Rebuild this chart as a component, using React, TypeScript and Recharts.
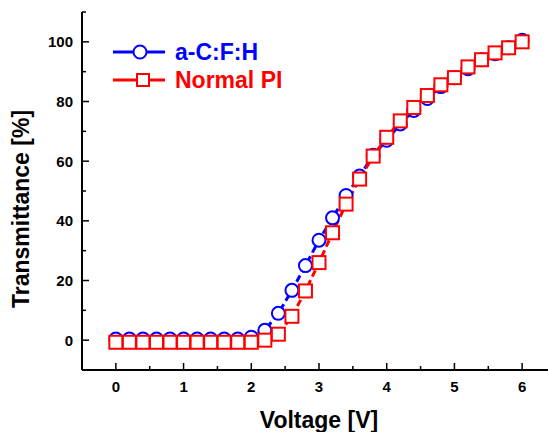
import { LineChart, Line, XAxis, YAxis } from "recharts";

const FONT = "'Liberation Sans', Arial, sans-serif";

// voltage steps (V)
const voltage = [
  0, 0.2, 0.4, 0.6, 0.8, 1.0, 1.2, 1.4, 1.6, 1.8, 2.0, 2.2, 2.4, 2.6, 2.8, 3.0,
  3.2, 3.4, 3.6, 3.8, 4.0, 4.2, 4.4, 4.6, 4.8, 5.0, 5.2, 5.4, 5.6, 5.8, 6.0,
];
// transmittance (%)
const aCFH = [
  0.4, 0.4, 0.4, 0.4, 0.4, 0.4, 0.4, 0.4, 0.4, 0.4, 1, 3.3, 9, 16.7, 25, 33.5,
  41, 48.5, 55, 62, 67, 72.5, 77, 81, 85, 88, 91, 94, 96, 98, 100.5,
];
const normalPI = [
  -0.7, -0.7, -0.7, -0.7, -0.7, -0.7, -0.7, -0.7, -0.7, -0.7, -0.7, 0, 2, 8,
  16.5, 26, 36, 45.6, 54, 61.7, 68, 73.5, 78, 82, 85.6, 88, 91.6, 94, 96.3, 98,
  100,
];

const seriesNames = ["a-C:F:H", "Normal PI"];
const seriesColors = ["#0000ff", "#ff0000"];

const xTicks = [-0.5, 0, 0.5, 1, 1.5, 2, 2.5, 3, 3.5, 4, 4.5, 5, 5.5, 6, 6.5];
const yTicks = [-10, 0, 10, 20, 30, 40, 50, 60, 70, 80, 90, 100, 110];
const yLabels = [0, 20, 40, 60, 80, 100];

const data = voltage.map((v, i) => ({ v, a: aCFH[i], n: normalPI[i] }));

function BottomTick(props: any) {
  const { x, y, payload } = props;
  const major = Number.isInteger(payload.value) && payload.value >= 0;
  return (
    <g>
      <line x1={x} x2={x} y1={y} y2={y - (major ? 7 : 4)} stroke="#000" strokeWidth={1.5} />
      {major && (
        <text x={x} y={y + 22} textAnchor="middle" fontFamily={FONT} fontWeight="bold" fontSize={15} fill="#000">
          {payload.value}
        </text>
      )}
    </g>
  );
}

function TopTick(props: any) {
  const { x, y } = props;
  return <line x1={x} x2={x} y1={y} y2={y + 4} stroke="#000" strokeWidth={1.5} />;
}

function LeftTick(props: any) {
  const { x, y, payload } = props;
  const major = yLabels.includes(payload.value);
  return (
    <g>
      <line x1={x} x2={x + (major ? 7 : 4)} y1={y} y2={y} stroke="#000" strokeWidth={1.5} />
      {major && (
        <text x={x - 9} y={y + 5.5} textAnchor="end" fontFamily={FONT} fontWeight="bold" fontSize={15} fill="#000">
          {payload.value}
        </text>
      )}
    </g>
  );
}

function CircleDot(props: any) {
  const { cx, cy, index } = props;
  return <circle key={index} cx={cx} cy={cy} r={6.5} fill="#fff" stroke={seriesColors[0]} strokeWidth={2} />;
}

function SquareDot(props: any) {
  const { cx, cy, index } = props;
  return <rect key={index} x={cx - 6.5} y={cy - 6.5} width={13} height={13} fill="#fff" stroke={seriesColors[1]} strokeWidth={2} />;
}

function LegendBox() {
  return (
    <svg width={300} height={100} style={{ position: "absolute", left: 0, top: 0, pointerEvents: "none" }}>
      <line x1={113} x2={165} y1={52} y2={52} stroke={seriesColors[0]} strokeWidth={3} />
      <circle cx={140} cy={52} r={6.5} fill="#fff" stroke={seriesColors[0]} strokeWidth={2} />
      <text x={175} y={60} fontFamily={FONT} fontWeight="bold" fontSize={23} fill={seriesColors[0]}>
        {seriesNames[0]}
      </text>
      <line x1={113} x2={165} y1={80} y2={80} stroke={seriesColors[1]} strokeWidth={3} />
      <rect x={137} y={74} width={12} height={12} fill="#fff" stroke={seriesColors[1]} strokeWidth={2} />
      <text x={175} y={88} fontFamily={FONT} fontWeight="bold" fontSize={23} fill={seriesColors[1]}>
        {seriesNames[1]}
      </text>
    </svg>
  );
}

export default function App() {
  return (
    <div style={{ position: "absolute", left: 0, top: 0, width: 548, height: 432, overflow: "hidden", background: "#fff" }}>
      <LineChart width={560} height={432} data={data} margin={{ top: 12, right: 4, bottom: 0, left: 0 }}>
        <XAxis
          dataKey="v"
          type="number"
          domain={[-0.5, 6.5]}
          ticks={xTicks}
          interval={0}
          height={62}
          tickSize={0}
          tickMargin={0}
          tickLine={false}
          tick={<BottomTick />}
          axisLine={{ stroke: "#000", strokeWidth: 2 }}
          allowDataOverflow
          label={{
            content: () => (
              <text x={319} y={428} textAnchor="middle" fontFamily={FONT} fontWeight="bold" fontSize={23} fill="#000">
                Voltage [V]
              </text>
            ),
          }}
        />
        <XAxis
          xAxisId="top"
          orientation="top"
          type="number"
          domain={[-0.5, 6.5]}
          ticks={xTicks}
          interval={0}
          height={0}
          tickSize={0}
          tickMargin={0}
          tickLine={false}
          tick={<TopTick />}
          axisLine={{ stroke: "#000", strokeWidth: 2 }}
          allowDataOverflow
        />
        <YAxis
          type="number"
          domain={[-10, 110]}
          ticks={yTicks}
          interval={0}
          width={82}
          tickSize={0}
          tickMargin={0}
          tickLine={false}
          tick={<LeftTick />}
          axisLine={{ stroke: "#000", strokeWidth: 2 }}
          allowDataOverflow
          label={{
            content: () => (
              <text transform="translate(29,209) rotate(-90)" textAnchor="middle" fontFamily={FONT} fontWeight="bold" fontSize={23} fill="#000">
                Transmittance [%]
              </text>
            ),
          }}
        />
        <Line
          dataKey="a"
          name={seriesNames[0]}
          stroke={seriesColors[0]}
          strokeWidth={3}
          strokeDasharray="7 4"
          dot={<CircleDot />}
          isAnimationActive={false}
        />
        <Line
          dataKey="n"
          name={seriesNames[1]}
          stroke={seriesColors[1]}
          strokeWidth={3}
          strokeDasharray="7 4"
          dot={<SquareDot />}
          isAnimationActive={false}
        />
      </LineChart>
      <LegendBox />
    </div>
  );
}
